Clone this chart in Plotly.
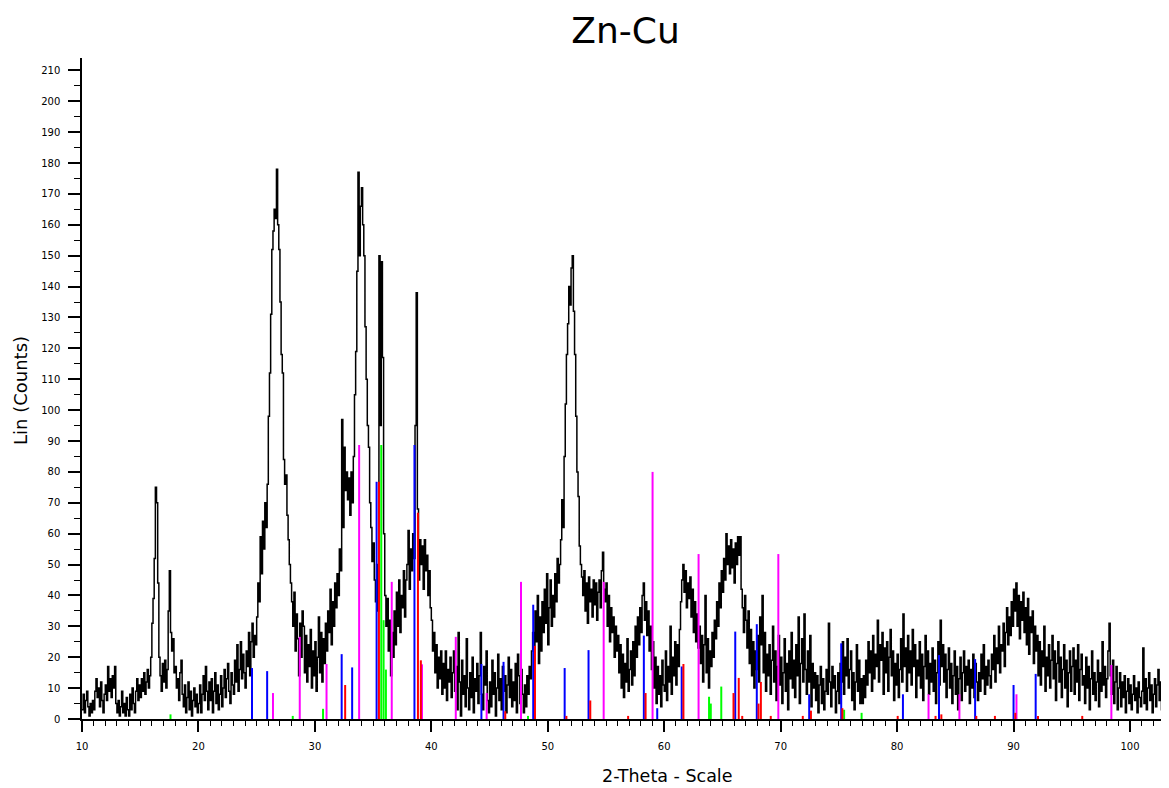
import plotly.graph_objects as go

# ---- measured pattern: 2-theta from 10.0 in 0.1 deg steps ----
two_theta_start = 10.0
two_theta_step = 0.1

counts_10s = [3, 8, 2, 6, 9, 4, 1, 5, 2, 6,
              3, 9, 13, 7, 10, 4, 12, 6, 2, 8,
              11, 6, 17, 9, 13, 7, 14, 10, 17, 5,
              2, 6, 1, 4, 9, 2, 5, 1, 7, 3,
              1, 8, 3, 10, 5, 2, 9, 13, 6, 11,
              7, 13, 9, 15, 8, 12, 16, 10, 14, 20,
              31, 39, 52, 75, 70, 44, 20, 14, 9, 18,
              12, 19, 10, 16, 35, 48, 28, 22, 26, 15,
              17, 10, 13, 6, 15, 19, 8, 4, 11, 2,
              7, 12, 3, 9, 1, 6, 10, 4, 8, 2]
counts_20s = [5, 11, 2, 8, 14, 6, 17, 9, 3, 12,
              6, 13, 2, 9, 15, 5, 11, 3, 8, 14,
              4, 10, 16, 7, 13, 18, 9, 5, 15, 11,
              8, 19, 12, 24, 9, 16, 25, 13, 21, 15,
              10, 22, 17, 28, 14, 25, 31, 20, 27, 24,
              33, 44, 38, 59, 47, 64, 55, 70, 62, 76,
              98, 112, 131, 152, 158, 165, 162, 178, 160, 152,
              135, 118, 112, 84, 76, 79, 66, 58, 50, 44,
              38, 30, 41, 22, 34, 26, 14, 31, 20, 35,
              30, 15, 27, 12, 24, 17, 29, 10, 22, 14]
counts_30s = [25, 9, 20, 33, 15, 28, 12, 26, 18, 31,
              22, 35, 28, 42, 24, 38, 30, 44, 36, 47,
              40, 55, 48, 97, 62, 88, 74, 80, 71, 78,
              66, 80, 70, 85, 105, 119, 145, 177, 150, 166,
              172, 160, 150, 127, 110, 95, 88, 70, 62, 51,
              57, 45, 38, 50, 35, 150, 95, 148, 117, 60,
              40, 30, 39, 22, 32, 14, 28, 20, 35, 24,
              41, 30, 45, 28, 40, 36, 48, 33, 45, 50,
              61, 42, 55, 48, 60, 52, 95, 138, 68, 45,
              58, 50, 56, 42, 58, 48, 53, 40, 48, 36]
counts_40s = [32, 22, 28, 15, 24, 10, 20, 13, 22, 8,
              18, 10, 22, 6, 16, 12, 20, 7, 15, 22,
              9, 17, 3, 28, 12, 1, 19, 8, 14, 4,
              26, 10, 3, 15, 7, 20, 2, 13, 9, 18,
              5, 14, 28, 8, 3, 17, 11, 22, 6, 2,
              12, 4, 19, 8, 15, 1, 10, 21, 6, 13,
              3, 17, 9, 14, 2, 11, 20, 7, 16, 4,
              12, 6, 18, 2, 21, 14, 5, 16, 8, 2,
              11, 4, 14, 8, 17, 13, 22, 28, 19, 35,
              25, 40, 18, 33, 22, 38, 28, 42, 31, 47]
counts_50s = [24, 36, 45, 30, 40, 33, 47, 38, 52, 44,
              50, 58, 71, 62, 85, 102, 118, 128, 140, 134,
              146, 150, 132, 118, 98, 80, 72, 56, 50, 46,
              40, 48, 35, 44, 31, 46, 38, 42, 33, 45,
              37, 44, 32, 41, 45, 36, 48, 54, 42, 38,
              44, 30, 40, 25, 36, 28, 33, 20, 30, 22,
              27, 15, 24, 10, 21, 7, 18, 12, 26, 9,
              16, 22, 11, 25, 14, 30, 20, 33, 24, 36,
              28, 40, 44, 32, 38, 27, 35, 22, 30, 16,
              25, 10, 20, 5, 17, 8, 14, 4, 19, 11]
counts_60s = [9, 22, 6, 17, 12, 30, 8, 20, 14, 25,
              11, 24, 17, 29, 38, 45, 50, 41, 48, 36,
              44, 39, 46, 33, 42, 28, 38, 25, 34, 23,
              30, 18, 27, 12, 24, 40, 15, 26, 10, 22,
              17, 28, 20, 32, 26, 38, 30, 44, 36, 48,
              41, 52, 45, 60, 50, 56, 47, 58, 49, 55,
              44, 57, 50, 59, 53, 59, 42, 36, 28, 40,
              32, 23, 35, 18, 29, 14, 25, 10, 22, 16,
              27, 12, 33, 24, 40, 15, 28, 9, 21, 14,
              24, 8, 19, 30, 12, 22, 6, 17, 27, 11]
counts_70s = [20, 5, 15, 26, 9, 18, 3, 22, 13, 28,
              10, 19, 7, 24, 14, 33, 5, 18, 26, 12,
              34, 16, 8, 22, 12, 27, 4, 18, 10, 15,
              6, 14, 2, 11, 17, 5, 13, 3, 9, 16,
              8, 31, 12, 4, 17, 10, 14, 2, 9, 15,
              5, 18, 12, 25, 8, 20, 14, 26, 10, 16,
              22, 6, 15, 3, 12, 24, 9, 19, 5, 13,
              5, 14, 7, 19, 11, 25, 15, 22, 9, 27,
              13, 21, 17, 32, 12, 24, 19, 28, 8, 23,
              15, 25, 9, 20, 29, 14, 22, 6, 18, 11]
counts_80s = [21, 7, 16, 26, 12, 34, 17, 23, 9, 27,
              15, 22, 11, 29, 17, 24, 7, 19, 14, 25,
              10, 21, 6, 17, 27, 13, 22, 8, 18, 12,
              23, 9, 19, 5, 15, 25, 11, 32, 17, 24,
              12, 21, 7, 16, 23, 10, 18, 5, 14, 22,
              8, 17, 3, 13, 20, 6, 15, 22, 9, 17,
              11, 19, 5, 16, 10, 21, 7, 18, 12, 6,
              15, 9, 21, 13, 24, 8, 17, 11, 19, 14,
              10, 21, 16, 27, 12, 23, 18, 30, 15, 24,
              22, 31, 17, 28, 36, 24, 33, 27, 38, 30]
counts_90s = [42, 35, 44, 30, 40, 26, 38, 32, 41, 28,
              36, 24, 39, 21, 33, 28, 35, 18, 30, 22,
              27, 14, 25, 11, 22, 17, 30, 9, 20, 14,
              24, 10, 19, 27, 13, 22, 6, 18, 25, 12,
              20, 7, 16, 24, 10, 19, 4, 15, 22, 9,
              17, 23, 8, 19, 12, 24, 6, 16, 21, 11,
              14, 5, 20, 10, 17, 3, 13, 22, 8, 15,
              6, 12, 19, 4, 15, 9, 25, 11, 17, 7,
              13, 22, 31, 14, 8, 19, 5, 12, 17, 3,
              10, 15, 4, 12, 7, 14, 2, 9, 13, 5]
counts_100s = [11, 3, 8, 14, 6, 10, 2, 12, 7, 4,
               9, 23, 5, 13, 3, 10, 15, 6, 11, 2,
               8, 13, 4, 11, 16, 6, 12, 3, 9, 14,
               5, 10, 3]

# ---- reference pattern sticks (2-theta, relative height in counts) ----
magenta_pos = [26.4, 28.7, 31.0, 33.8, 36.6, 39.2, 42.1, 44.75, 47.7, 54.8,
               59.0, 62.95, 69.8, 82.7, 85.35, 90.25, 98.4]
magenta_h = [8.4, 26.6, 17.8, 88.7, 44.4, 17.7, 26.6, 8.4, 44.4, 44.4,
             80, 53.4, 53.4, 8, 8, 8, 17.5]
blue_pos = [24.6, 25.9, 32.3, 33.2, 35.3, 38.55, 44.3, 46.2, 48.75, 51.45,
            53.5, 58.25, 59.4, 61.5, 66.1, 67.95, 72.45, 75.2, 80.5, 83.6,
            86.7, 90.0, 91.9]
blue_h = [16.5, 15.5, 21, 16.7, 76.8, 88.7, 17.8, 18.5, 37, 16.5,
          22.3, 27, 3.5, 17, 28.3, 30.7, 8, 24.5, 8, 20.7,
          19.4, 11, 14.6]
red_pos = [32.6, 35.5, 38.85, 39.1, 46.35, 48.9, 51.6, 53.65, 56.9, 58.4,
           61.65, 65.95, 66.4, 66.7, 68.1, 68.3, 69.15, 71.9, 72.6, 75.3,
           80.05, 83.3, 83.8, 86.8, 88.4, 90.15, 92.1, 95.9]
red_h = [11, 76.8, 66.8, 19, 2.5, 23.7, 1, 6, 1, 8.4,
         17.8, 8.4, 13.3, 1, 5, 12, 1, 1, 2.7, 3.5,
         1, 1, 1.5, 1, 1, 2, 1, 1]
green_pos = [17.6, 28.1, 30.7, 35.7, 35.9, 36.1, 48.3, 63.85, 64.0, 64.9,
             75.45, 76.95]
green_h = [1.5, 1, 3.3, 88.7, 32, 16, 1, 7.2, 5, 10.5,
           3, 2]

# ---- assemble ----
counts = (counts_10s + counts_20s + counts_30s + counts_40s + counts_50s +
          counts_60s + counts_70s + counts_80s + counts_90s + counts_100s)
two_theta = [round(two_theta_start + two_theta_step * i, 2) for i in range(len(counts))]

fig = go.Figure()
fig.add_trace(go.Scatter(x=two_theta, y=counts, mode="lines",
                         line=dict(color="black", width=1.5, shape="hv"),
                         showlegend=False, hoverinfo="skip"))


def sticks(pos, h, color):
    xs, ys = [], []
    for p, v in zip(pos, h):
        xs += [p, p, None]
        ys += [0, v, None]
    return go.Scatter(x=xs, y=ys, mode="lines", line=dict(color=color, width=2),
                      showlegend=False, hoverinfo="skip")


fig.add_trace(sticks(magenta_pos, magenta_h, "#FF00FF"))
fig.add_trace(sticks(blue_pos, blue_h, "#0000FF"))
fig.add_trace(sticks(green_pos, green_h, "#00FF00"))
fig.add_trace(sticks(red_pos, red_h, "#FF0000"))

tick_font = dict(family="DejaVu Sans", size=10, color="black")

# the page body adds an 8px offset, so the figure is 8px smaller and margins shifted
W, H = 1161, 780
L, T, B = 74, 50, 69
PW, PH = W - L, H - T - B

fig.update_layout(
    width=W, height=H,
    margin=dict(l=L, r=0, t=T, b=B, autoexpand=False),
    paper_bgcolor="white", plot_bgcolor="white",
    title=dict(text="Zn-Cu", x=0.5, xref="paper", xanchor="center",
               y=1 - 22 / H, yref="container", yanchor="middle",
               font=dict(family="DejaVu Sans", size=36, color="black")),
    xaxis=dict(range=[10, 103.35], showgrid=False, zeroline=False,
               showline=True, linecolor="black", linewidth=2, automargin=False,
               ticks="outside", tickcolor="black", ticklen=11, tickwidth=1.5,
               dtick=10, tick0=10, tickfont=tick_font, ticklabelstandoff=6,
               minor=dict(dtick=1, ticks="outside", ticklen=5, tickcolor="black",
                          tickwidth=1.2)),
    yaxis=dict(range=[0, 214], showgrid=False, zeroline=False,
               showline=True, linecolor="black", linewidth=1.5, automargin=False,
               ticks="outside", tickcolor="black", ticklen=12, tickwidth=1.5,
               dtick=10, tick0=0, tickfont=tick_font, ticklabelstandoff=6,
               minor=dict(dtick=5, ticks="outside", ticklen=6, tickcolor="black",
                          tickwidth=1.2)),
    annotations=[
        dict(text="2-Theta - Scale", xref="paper", yref="paper",
             x=(667 - 82) / PW, y=-(776 - 719) / PH, xanchor="center",
             yanchor="middle", showarrow=False,
             font=dict(family="DejaVu Sans", size=17.5, color="black")),
        dict(text="Lin (Counts)", xref="paper", yref="paper",
             x=-(82 - 20) / PW, y=(719 - 390) / PH, xanchor="center",
             yanchor="middle", textangle=-90, showarrow=False,
             font=dict(family="DejaVu Sans", size=18, color="black")),
    ],
    shapes=[dict(type="line", xref="paper", yref="paper",
                 x0=-12 / PW, x1=0, y0=0, y1=0,
                 line=dict(color="black", width=2))],
)

fig.write_html("out.html")
